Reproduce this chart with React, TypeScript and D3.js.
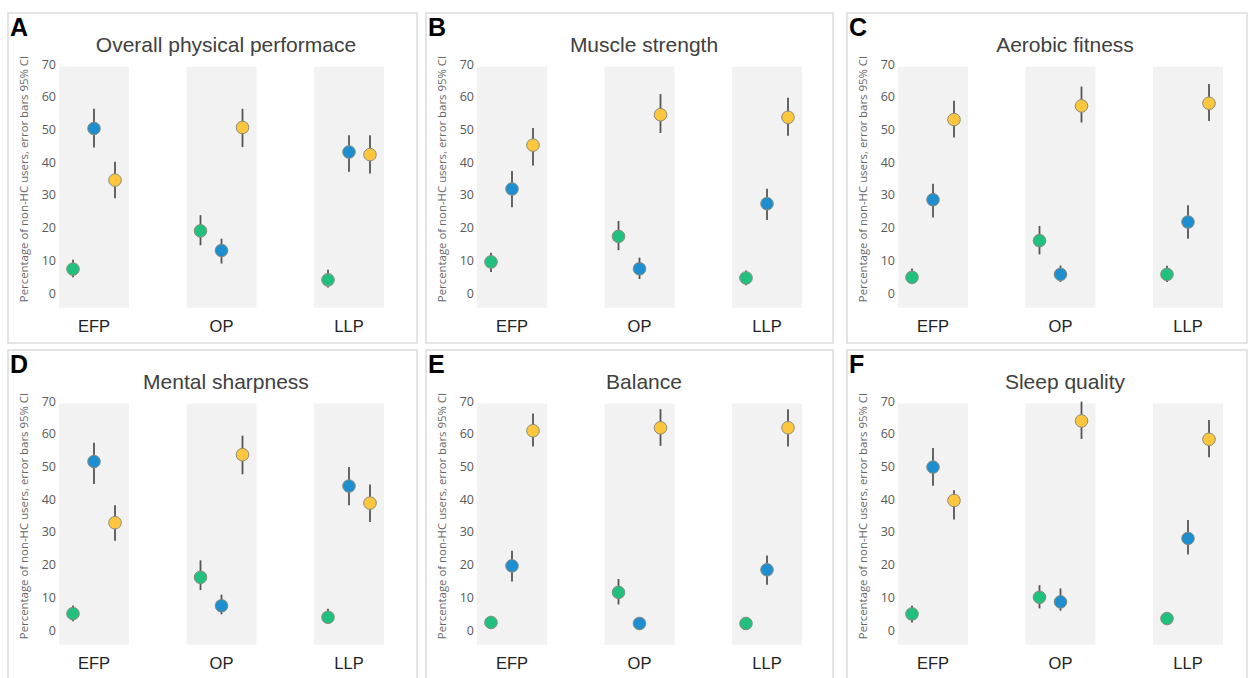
import React, { useEffect, useRef } from 'react'
import * as d3 from 'd3'

// groups on the x axis and the three series drawn in each group
const categories = ['EFP', 'OP', 'LLP']
const seriesColors = ['#20c17f', '#1d8fd1', '#fec63d']
const yTicks = [0, 10, 20, 30, 40, 50, 60, 70]
const yLabel = 'Percentage of non-HC users, error bars 95% CI'

const letters = ['A', 'B', 'C', 'D', 'E', 'F']
const titles = ['Overall physical performace', 'Muscle strength', 'Aerobic fitness',
  'Mental sharpness', 'Balance', 'Sleep quality']

// [group][series] = [value, lower CI, upper CI]
const overallPhysical = [
  [[7.3, 4.8, 10.2], [50.3, 44.5, 56.3], [34.5, 29.0, 40.1]],
  [[19.0, 14.6, 23.8], [13.0, 9.0, 16.6], [50.6, 44.6, 56.3]],
  [[4.0, 1.7, 7.1], [43.1, 37.1, 48.2], [42.3, 36.5, 48.2]],
]
const muscleStrength = [
  [[9.5, 6.4, 12.3], [31.8, 26.2, 37.3], [45.2, 39.0, 50.4]],
  [[17.3, 13.1, 22.0], [7.4, 4.3, 10.8], [54.5, 48.9, 60.8]],
  [[4.6, 2.4, 6.9], [27.3, 22.3, 31.9], [53.7, 48.1, 59.7]],
]
const aerobicFitness = [
  [[4.8, 2.7, 7.5], [28.5, 23.1, 33.4], [53.0, 47.5, 58.8]],
  [[16.0, 11.8, 20.5], [5.7, 3.4, 8.4], [57.2, 52.1, 63.1]],
  [[5.7, 3.4, 8.3], [21.7, 16.6, 26.8], [58.0, 52.6, 63.9]],
]
const mentalSharpness = [
  [[5.0, 2.7, 7.5], [51.5, 44.6, 57.2], [32.8, 27.3, 38.1]],
  [[16.1, 12.2, 21.3], [7.4, 4.8, 10.8], [53.6, 47.6, 59.4]],
  [[3.9, 1.8, 6.5], [44.0, 38.1, 49.8], [38.8, 33.0, 44.5]],
]
const balance = [
  [[2.3, 0.8, 4.0], [19.6, 14.8, 24.2], [60.9, 56.1, 66.2]],
  [[11.5, 7.8, 15.6], [2.0, 1.0, 3.3], [61.8, 56.3, 67.5]],
  [[2.0, 0.8, 3.3], [18.4, 13.8, 22.8], [61.8, 56.1, 67.5]],
]
const sleepQuality = [
  [[4.9, 2.3, 7.4], [49.8, 44.1, 55.6], [39.6, 33.8, 42.7]],
  [[10.0, 6.6, 13.7], [8.6, 5.9, 12.7], [63.9, 58.4, 69.8]],
  [[3.5, 2.1, 5.2], [28.0, 23.1, 33.6], [58.3, 52.8, 64.2]],
]
const panelData = [overallPhysical, muscleStrength, aerobicFitness, mentalSharpness, balance, sleepQuality]

const W = 1248, H = 678
const colX = [8, 426, 847], colW = [409, 407, 400]
const rowY = [13, 350], rowH = [330, 335]

export default function App() {
  const ref = useRef<SVGSVGElement>(null)

  useEffect(() => {
    const svg = d3.select(ref.current)
    svg.selectAll('*').remove()

    const x = d3.scalePoint<string>().domain(categories).range([86, 341])
    const y = d3.scaleLinear().domain([0, 70]).range([280, 51])
    const offset = d3.scalePoint<number>().domain([0, 1, 2]).range([-21, 21])
    const bandW = 70

    panelData.forEach((groups, p) => {
      const c = p % 3, r = Math.floor(p / 3)
      const g = svg.append('g').attr('transform', `translate(${colX[c]},${rowY[r]})`)

      g.append('rect')
        .attr('width', colW[c]).attr('height', rowH[r])
        .attr('fill', '#fff').attr('stroke', '#dcdcdc').attr('stroke-width', 1.5)

      g.append('text').text(letters[p])
        .attr('x', 2).attr('y', 23)
        .attr('font-family', 'Liberation Sans, Arial, sans-serif')
        .attr('font-weight', 'bold').attr('font-size', 25).attr('fill', '#000')

      g.append('text').text(titles[p])
        .attr('x', 218).attr('y', 39).attr('text-anchor', 'middle')
        .attr('font-family', 'Liberation Sans, Arial, sans-serif')
        .attr('font-size', 21).attr('fill', '#404040')

      // grey column behind each group
      g.selectAll('.band').data(categories).enter().append('rect')
        .attr('x', d => x(d)! - bandW / 2).attr('width', bandW)
        .attr('y', y(69.2)).attr('height', y(-4.5) - y(69.2))
        .attr('fill', '#f2f2f2')

      const axis = g.append('g').attr('transform', 'translate(48,0)')
        .call(d3.axisLeft(y).tickValues(yTicks).tickSize(0).tickPadding(0))
      axis.select('.domain').remove()
      axis.selectAll('text')
        .attr('font-family', 'Open Sans, sans-serif').attr('font-size', 12.5).attr('fill', '#595959')

      g.append('text').text(yLabel)
        .attr('transform', 'translate(20,166) rotate(-90)')
        .attr('text-anchor', 'middle')
        .attr('font-family', 'Open Sans, sans-serif').attr('font-size', 11.4).attr('fill', '#666')

      g.selectAll('.cat').data(categories).enter().append('text')
        .text(d => d)
        .attr('x', d => x(d)!).attr('y', 319).attr('text-anchor', 'middle')
        .attr('font-family', 'Liberation Sans, Arial, sans-serif')
        .attr('font-size', 16.5).attr('fill', '#222')

      groups.forEach((series, gi) => {
        const cx = x(categories[gi])!
        series.forEach(([v, lo, hi], si) => {
          const px = cx + offset(si)!
          g.append('line')
            .attr('x1', px).attr('x2', px).attr('y1', y(lo)).attr('y2', y(hi))
            .attr('stroke', '#555').attr('stroke-width', 1.8)
          g.append('circle')
            .attr('cx', px).attr('cy', y(v)).attr('r', 6.3)
            .attr('fill', seriesColors[si])
            .attr('stroke', '#8c8c7a').attr('stroke-width', 1)
        })
      })
    })
  }, [])

  return <svg ref={ref} width={W} height={H}
    style={{ position: 'absolute', left: 0, top: 0, background: '#fff' }} />
}
